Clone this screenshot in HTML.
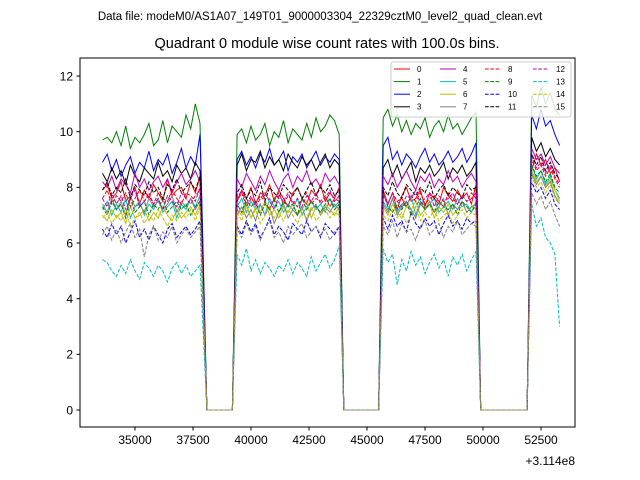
<!DOCTYPE html>
<html><head><meta charset="utf-8"><style>
body{margin:0;background:#fff;}
svg{display:block;font-family:"Liberation Sans","DejaVu Sans",sans-serif;}
</style></head><body>
<svg id="chart" width="640" height="480">
<text x="320" y="20" text-anchor="middle" font-size="11.5">Data file: modeM0/AS1A07_149T01_9000003304_22329cztM0_level2_quad_clean.evt</text>
<text x="327" y="48" text-anchor="middle" font-size="14.5">Quadrant 0 module wise count rates with 100.0s bins.</text>
<g id="lines"></g>
<rect x="80" y="58" width="495" height="369" fill="none" stroke="#000" stroke-width="1"/>
<g id="axes"></g>
<text x="575" y="465" text-anchor="end" font-size="12">+3.114e8</text>
<g id="legend"></g>
</svg>
<script>
const segments=[[33600,37800],[39400,43800],[45700,49700],[52100,53300]];
const gapZeros=[[38100,39200],[44000,45500],[49900,51900]];
const binStep=200;
const xTicks=[35000,37500,40000,42500,45000,47500,50000,52500];
const yTicks=[0,2,4,6,8,10,12];
const names=["0","1","2","3","4","5","6","7","8","9","10","11","12","13","14","15"];
const colors=["#ff0000","#008000","#0000ff","#000000","#bf00bf","#00bfbf","#bfbf00","#808080","#ff0000","#008000","#0000ff","#000000","#bf00bf","#00bfbf","#bfbf00","#808080"];
const s0=[7.9,8.1,7.6,7.8,8.2,7.5,7.7,8.0,7.4,7.9,7.6,8.1,7.8,7.5,8.3,7.7,7.9,8.0,7.6,8.2,7.8,8.4,0,0,7.5,7.9,7.6,8.0,7.4,7.8,7.7,8.1,7.5,7.9,7.6,7.3,7.8,8.0,7.6,7.4,7.9,7.7,8.1,7.5,7.8,7.6,8.0,0,0,7.9,7.4,7.8,7.2,7.7,8.0,7.5,7.6,7.9,7.3,7.8,7.6,7.4,8.0,7.7,7.5,7.9,7.6,7.8,7.4,8.1,0,0,8.6,9.2,8.8,9.0,8.5,8.7,8.2];
const s1=[9.7,9.8,9.6,10.0,9.5,10.2,9.4,9.8,9.6,9.9,10.3,9.5,9.7,10.4,9.6,10.2,10.0,9.8,10.6,10.1,11.0,10.3,0,0,9.9,10.1,9.6,10.2,9.7,9.9,10.3,9.5,10.0,9.8,10.4,9.6,10.1,9.9,9.7,10.3,9.8,10.5,10.0,10.2,10.6,10.4,9.9,0,0,10.5,10.8,10.2,10.6,10.0,10.4,9.9,10.3,10.1,10.5,9.8,10.2,10.4,10.0,10.6,10.1,10.3,9.9,10.2,10.5,10.7,0,0,11.3,10.9,11.6,11.0,11.4,10.8,10.6];
const s2=[8.9,9.2,8.6,9.0,8.4,8.8,9.1,8.5,8.9,8.7,9.3,8.6,9.0,8.8,9.2,8.5,8.9,9.4,8.7,9.1,8.8,9.9,0,0,9.0,9.3,8.8,9.1,8.7,9.2,8.9,9.4,8.8,9.0,9.3,8.6,9.1,8.9,9.2,8.7,9.0,9.3,8.8,9.1,8.9,9.2,9.0,0,0,9.5,9.8,9.0,9.3,8.8,9.2,9.0,8.7,9.1,9.4,8.9,9.2,8.8,9.0,9.3,8.9,9.1,9.4,8.9,9.2,9.6,0,0,10.6,10.1,10.8,10.2,10.4,9.9,9.5];
const s3=[8.5,8.2,8.7,8.3,8.6,8.1,8.8,8.4,8.2,8.7,8.5,8.3,8.9,8.4,8.6,8.2,8.8,8.5,8.7,8.3,8.9,8.6,0,0,8.8,9.2,8.6,9.0,8.9,9.3,8.7,9.1,8.8,9.0,8.6,9.2,8.9,8.7,9.1,8.8,9.0,8.6,8.9,9.2,8.7,9.0,8.8,0,0,8.7,9.0,8.4,8.8,8.3,8.6,8.9,8.2,8.7,8.5,8.8,8.4,8.6,8.9,8.3,8.7,8.5,8.8,8.4,8.6,8.9,0,0,9.8,9.3,9.6,9.1,9.4,9.0,8.8];
const s4=[8.2,8.0,8.4,7.9,8.3,8.1,7.8,8.5,8.0,8.3,7.9,8.2,8.4,8.0,8.3,7.8,8.2,8.5,8.1,8.3,8.6,8.2,0,0,8.3,8.0,8.5,8.2,7.9,8.4,8.1,8.6,8.2,7.9,8.3,8.5,8.0,8.4,8.2,8.6,8.1,8.3,8.0,8.5,8.2,8.4,8.1,0,0,8.4,8.1,8.5,8.0,8.3,8.6,8.2,7.9,8.4,8.2,8.5,8.0,8.3,8.1,8.6,8.2,8.4,8.0,8.3,8.5,8.2,0,0,9.4,9.0,9.2,8.8,9.1,8.7,8.5];
const s5=[7.2,7.5,7.0,7.4,7.1,7.6,6.9,7.3,7.5,7.0,7.4,7.2,7.6,7.1,7.3,7.5,6.9,7.4,7.2,7.6,7.3,7.7,0,0,7.3,7.6,7.1,7.5,7.2,7.4,7.0,7.6,7.3,7.5,7.1,7.4,7.2,7.6,7.0,7.3,7.5,7.2,7.4,7.1,7.6,7.3,7.5,0,0,7.5,7.2,7.6,7.1,7.4,7.3,7.7,7.0,7.5,7.2,7.4,7.6,7.1,7.3,7.5,7.2,7.6,7.3,7.4,7.1,7.5,0,0,8.8,8.3,8.6,8.1,8.4,7.9,7.6];
const s6=[7.0,6.8,7.2,6.9,7.1,6.7,7.3,6.9,7.0,7.2,6.8,7.1,6.9,7.3,7.0,6.8,7.2,6.9,7.1,7.3,7.0,7.4,0,0,7.2,7.0,7.4,6.9,7.3,7.1,7.5,7.0,7.2,6.9,7.3,7.1,7.4,7.0,7.2,7.5,6.9,7.3,7.1,7.4,7.2,7.0,7.3,0,0,7.3,7.0,7.4,7.1,6.9,7.3,7.2,7.5,7.0,7.2,7.4,6.9,7.3,7.1,7.4,7.0,7.2,7.5,7.1,7.3,7.2,0,0,8.6,8.2,8.4,8.0,8.3,7.9,7.5];
const s7=[7.4,7.1,7.6,7.2,7.5,7.0,7.7,7.3,7.4,7.1,7.6,7.3,7.5,7.2,7.4,7.7,7.1,7.5,7.3,7.6,7.2,7.5,0,0,7.0,7.3,6.9,7.2,6.8,7.4,7.0,7.3,6.7,7.1,7.4,6.9,7.2,7.0,7.3,6.8,7.2,7.4,7.0,7.3,7.1,7.4,7.2,0,0,7.4,7.1,7.6,7.0,7.3,7.5,7.2,6.9,7.4,7.2,7.5,7.1,7.3,7.6,7.0,7.4,7.2,7.5,7.1,7.3,7.4,0,0,8.5,8.1,8.4,8.0,8.2,7.7,7.4];
const s8=[7.6,7.9,7.4,7.7,7.5,7.8,7.3,7.6,7.9,7.5,7.7,7.4,7.8,7.6,7.5,7.9,7.6,7.4,7.8,7.7,7.5,8.0,0,0,7.5,7.8,7.3,7.6,7.4,7.7,7.5,7.2,7.6,7.8,7.4,7.7,7.5,7.3,7.6,7.8,7.4,7.6,7.5,7.7,7.3,7.6,7.5,0,0,7.7,7.4,7.8,7.5,7.6,7.3,7.7,7.5,7.8,7.4,7.6,7.7,7.5,7.3,7.8,7.6,7.4,7.7,7.5,7.8,7.6,0,0,9.0,8.6,8.8,8.4,8.7,8.3,8.0];
const s9=[7.3,7.0,7.5,7.2,7.4,6.9,7.6,7.1,7.3,7.5,7.0,7.4,7.2,7.6,7.1,7.3,7.5,7.2,7.4,7.0,7.3,7.5,0,0,7.4,7.1,7.6,7.3,7.5,7.0,7.4,7.2,7.6,7.1,7.5,7.3,7.4,7.0,7.6,7.2,7.5,7.3,7.1,7.4,7.6,7.2,7.4,0,0,7.8,7.3,7.1,7.4,7.2,7.5,7.0,7.3,7.6,7.2,7.4,7.1,7.5,7.3,7.2,7.4,7.0,7.5,7.3,7.1,7.4,0,0,8.8,8.4,8.6,8.2,8.5,8.0,7.8];
const s10=[6.5,6.2,6.7,6.3,6.6,6.0,6.4,6.8,6.2,6.5,6.1,6.6,6.3,6.0,6.5,6.7,6.2,6.4,6.6,6.3,6.5,6.8,0,0,6.6,6.3,6.8,6.4,6.7,6.2,6.5,6.9,6.3,6.6,6.4,6.1,6.7,6.5,6.3,6.8,6.4,6.6,6.2,6.7,6.5,6.3,6.6,0,0,6.9,6.5,7.0,6.6,6.8,6.4,7.1,6.7,6.5,6.9,6.6,6.8,6.3,6.7,7.0,6.6,6.8,6.5,6.9,6.7,6.8,0,0,8.2,7.8,8.0,7.6,7.9,7.4,7.2];
const s11=[7.9,8.2,7.7,8.0,7.8,8.3,7.6,8.1,7.9,7.7,8.2,7.8,8.0,7.6,8.1,7.9,8.3,7.8,8.0,8.2,7.9,8.4,0,0,7.8,8.1,7.6,7.9,7.7,8.2,7.5,8.0,7.8,7.6,8.1,7.9,7.7,8.0,7.6,7.9,8.2,7.7,8.0,7.8,8.1,7.7,7.9,0,0,8.0,7.7,8.2,7.8,7.6,8.1,7.9,7.7,8.0,7.8,8.2,7.6,7.9,8.1,7.7,8.0,7.8,7.6,8.1,7.9,8.0,0,0,9.2,8.8,9.1,8.6,8.9,8.5,8.3];
const s12=[7.6,7.3,7.8,7.4,7.7,7.2,7.6,7.9,7.3,7.5,7.8,7.4,7.6,7.2,7.7,7.5,7.3,7.8,7.6,7.4,7.7,7.9,0,0,7.6,7.9,7.4,7.7,7.3,7.6,7.8,7.5,7.2,7.7,7.5,7.8,7.4,7.6,7.3,7.7,7.5,7.8,7.4,7.6,7.9,7.5,7.7,0,0,7.7,7.4,7.8,7.5,7.3,7.7,7.6,7.9,7.4,7.6,7.8,7.3,7.7,7.5,7.6,7.8,7.4,7.7,7.5,7.6,7.8,0,0,9.1,8.7,8.9,8.5,8.8,8.4,8.1];
const s13=[5.4,5.3,5.0,4.8,5.2,4.9,5.4,5.0,4.7,5.3,5.1,4.8,5.2,5.0,4.6,5.1,5.3,4.9,5.2,4.8,5.0,5.2,0,0,5.6,5.2,5.8,5.0,5.4,4.9,5.3,5.1,4.8,5.2,5.0,5.4,4.9,5.3,5.1,4.8,5.5,5.0,5.3,5.6,5.1,5.4,5.9,0,0,5.8,5.3,5.6,4.5,5.4,5.0,5.7,5.2,5.5,4.9,5.3,5.6,5.1,5.4,4.8,5.5,5.2,5.6,5.0,5.4,5.7,0,0,7.4,6.6,6.9,6.2,6.0,5.6,3.0];
const s14=[6.9,7.1,6.7,7.0,6.8,7.2,6.6,6.9,7.1,6.7,7.0,6.8,7.2,6.9,6.6,7.0,6.8,7.1,6.9,7.2,6.8,7.3,0,0,7.1,6.8,7.3,6.9,7.2,6.7,7.0,7.3,6.9,7.1,6.8,7.2,7.0,6.7,7.1,6.9,7.3,6.8,7.0,7.2,6.9,7.1,7.0,0,0,7.0,6.8,7.2,6.9,7.1,6.7,7.0,7.3,6.8,7.1,6.9,7.2,6.8,7.0,7.1,6.7,7.0,7.2,6.9,7.1,7.0,0,0,8.4,8.0,8.2,7.8,8.1,7.6,7.4];
const s15=[6.3,6.6,6.1,6.5,6.0,6.4,6.7,6.2,6.5,5.5,6.3,6.6,6.1,6.4,6.2,6.6,6.0,6.3,6.5,6.2,6.4,6.6,0,0,6.5,6.2,6.7,6.3,6.6,6.1,6.5,6.8,6.2,6.4,6.0,6.6,6.3,6.5,6.7,6.2,6.4,6.6,6.3,6.5,6.1,6.4,6.6,0,0,6.6,6.3,6.8,6.2,6.7,6.4,6.5,6.1,6.6,6.8,6.3,6.5,6.7,6.2,6.6,6.4,6.8,6.3,6.5,6.7,6.6,0,0,7.8,7.4,7.7,7.2,7.5,7.0,6.6];
const series=[s0,s1,s2,s3,s4,s5,s6,s7,s8,s9,s10,s11,s12,s13,s14,s15];

const NS="http://www.w3.org/2000/svg";
const X0=80,X1=575,Y0=58,Y1=427;
const xMin=35000-(135-X0)*17500/406, xMax=35000+(X1-135)*17500/406;
const yMin=-(Y1-410)/27.83, yMax=(410-Y0)/27.83;
function sx(t){return X0+(t-xMin)/(xMax-xMin)*(X1-X0);}
function sy(v){return Y1-(v-yMin)/(yMax-yMin)*(Y1-Y0);}
const times=[];
segments.forEach((s,i)=>{
  for(let t=s[0];t<=s[1];t+=binStep) times.push(t);
  if(gapZeros[i]){times.push(gapZeros[i][0]);times.push(gapZeros[i][1]);}
});
const gl=document.getElementById('lines');
series.forEach((vals,i)=>{
  const p=document.createElementNS(NS,'polyline');
  
  
  p.setAttribute('points',vals.map((v,j)=>sx(times[j]).toFixed(1)+','+sy(v).toFixed(1)).join(' '));
  p.setAttribute('fill','none');
  p.setAttribute('stroke',colors[i]);
  p.setAttribute('stroke-width','1');
  if(i>=8) p.setAttribute('stroke-dasharray','3.7,1.6');
  gl.appendChild(p);
});
const ga=document.getElementById('axes');
xTicks.forEach(t=>{
  const x=sx(t);
  const l=document.createElementNS(NS,'line');
  
  
  l.setAttribute('x1',x);l.setAttribute('x2',x);l.setAttribute('y1',Y1);l.setAttribute('y2',Y1+3.5);
  l.setAttribute('stroke','#000');
  ga.appendChild(l);
  const tx=document.createElementNS(NS,'text');
  
  
  tx.setAttribute('x',x);tx.setAttribute('y',Y1+17);
  tx.setAttribute('text-anchor','middle');tx.setAttribute('font-size','12');
  tx.textContent=t;
  ga.appendChild(tx);
});
yTicks.forEach(v=>{
  const y=sy(v);
  const l=document.createElementNS(NS,'line');
  
  
  l.setAttribute('x1',X0-3.5);l.setAttribute('x2',X0);l.setAttribute('y1',y);l.setAttribute('y2',y);
  l.setAttribute('stroke','#000');
  ga.appendChild(l);
  const tx=document.createElementNS(NS,'text');
  
  
  tx.setAttribute('x',X0-7);tx.setAttribute('y',y+4.3);
  tx.setAttribute('text-anchor','end');tx.setAttribute('font-size','12');
  tx.textContent=v;
  ga.appendChild(tx);
});
const lg=document.getElementById('legend');
const box=document.createElementNS(NS,'rect');


box.setAttribute('x',391);box.setAttribute('y',62);box.setAttribute('width',180);box.setAttribute('height',55);
box.setAttribute('rx',2);box.setAttribute('fill','#fff');box.setAttribute('fill-opacity','0.8');box.setAttribute('stroke','#ccc');
lg.appendChild(box);
const colX=[394,440,485,533];
names.forEach((n,i)=>{
  const c=Math.floor(i/4),r=i%4;
  const y=69+r*12.6;
  const l=document.createElementNS(NS,'line');
  
  
  l.setAttribute('x1',colX[c]);l.setAttribute('x2',colX[c]+16);l.setAttribute('y1',y);l.setAttribute('y2',y);
  l.setAttribute('stroke',colors[i]);l.setAttribute('stroke-width','1');
  if(i>=8) l.setAttribute('stroke-dasharray','3.7,1.6');
  lg.appendChild(l);
  const t=document.createElementNS(NS,'text');
  
  
  t.setAttribute('x',colX[c]+23);t.setAttribute('y',y+2.8);t.setAttribute('font-size','8');
  t.textContent=n;
  lg.appendChild(t);
});
</script>
</body></html>
